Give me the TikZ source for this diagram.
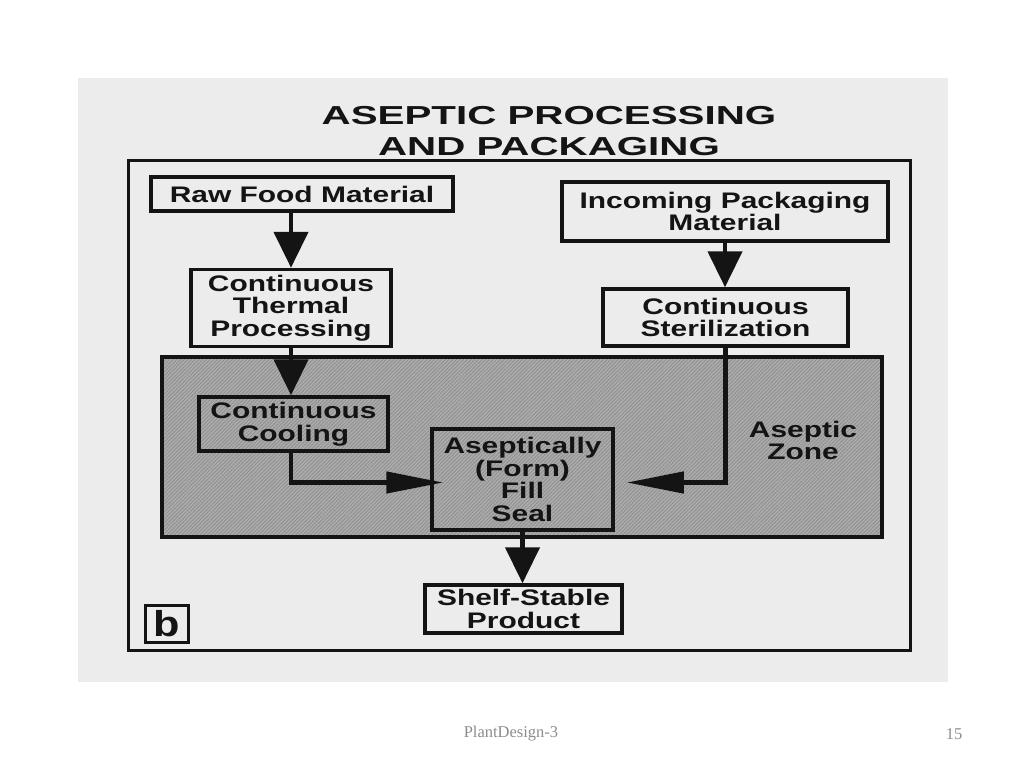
\documentclass[tikz,border=0pt]{standalone}
\usepackage{fontspec}
\setmainfont{Liberation Sans}
\newfontfamily\serifft{Liberation Serif}
\usetikzlibrary{arrows.meta,patterns.meta,calc}
\definecolor{panel}{HTML}{ECECEC}
\definecolor{ink}{HTML}{141414}
\definecolor{zonefill}{HTML}{ABABAB}
\definecolor{zoneline}{HTML}{8C8C8C}
\definecolor{foot}{HTML}{8C8C8C}
\newcommand{\sx}[1]{\scalebox{1.33}[1]{#1}}
\newcommand{\tx}[1]{\scalebox{1.55}[1]{#1}}
\begin{document}
\begin{tikzpicture}[x=1pt,y=-1pt,
  box/.style={draw=ink, line width=3.5pt, rectangle, inner sep=0pt, align=center,
    text=ink, font=\fontsize{22.5}{22.5}\selectfont\bfseries},
  conn/.style={draw=ink, line width=4.5pt},
  vtip/.style={-{Triangle[length=36pt,width=34pt]}},
  htip/.style={-{Triangle[length=57pt,width=21pt]}},
  lbl/.style={text=ink, align=center, inner sep=0pt, font=\fontsize{22.5}{22}\selectfont\bfseries}
]
\useasboundingbox (0,0) rectangle (1024,768);
\fill[white] (0,0) rectangle (1024,768);
\fill[panel] (78,78) rectangle (948,682);

% title
\node[lbl, font=\fontsize{26}{31}\selectfont\bfseries] (title) at (549,131)
  {\tx{ASEPTIC PROCESSING}\\\tx{AND PACKAGING}};

% outer frame
\node[draw=ink, line width=3pt, inner sep=0pt, minimum width=782pt, minimum height=490pt] (frame) at (519,405) {};

% aseptic zone
\node[draw=ink, line width=3.5pt, inner sep=0pt, minimum width=720pt, minimum height=180pt,
  preaction={fill=zonefill},
  pattern={Lines[angle=45,distance=2.6pt,line width=0.7pt]}, pattern color=zoneline] (zone) at (522,447) {};

\node[lbl] (aztext) at (803,440) {\sx{Aseptic}\\\sx{Zone}};

% boxes
\node[box, minimum width=302pt, minimum height=34pt] (rfm) at (302,194) {\sx{Raw Food Material}};
\node[box, minimum width=200pt, minimum height=77pt] (ctp) at (291,308) {\sx{Continuous}\\\sx{Thermal}\\\sx{Processing}};
\node[box, minimum width=326pt, minimum height=59pt] (ipm) at (725,211.5) {\sx{Incoming Packaging}\\\sx{Material}};
\node[box, minimum width=245pt, minimum height=57pt] (cs) at (725.5,317.5) {\sx{Continuous}\\\sx{Sterilization}};
\node[box, minimum width=189pt, minimum height=54pt] (cc) at (293.5,424) {\sx{Continuous}\\\sx{Cooling}};
\node[box, minimum width=181pt, minimum height=101pt] (asep) at (522.5,479.5) {\sx{Aseptically}\\\sx{(Form)}\\\sx{Fill}\\\sx{Seal}};
\node[box, minimum width=197pt, minimum height=48pt] (shelf) at (523.5,609) {\sx{Shelf-Stable}\\\sx{Product}};
\node[box, line width=3pt, minimum width=43pt, minimum height=37pt, font=\fontsize{36}{36}\selectfont\bfseries] (bbox) at (166.5,623.5) {\scalebox{1.2}[1]{b}};

% connectors
\draw[conn, vtip] (rfm.south -| ctp.north) -- (ctp.north);
\draw[conn, vtip] (ctp.south) -- (ctp.south |- cc.north);
\draw[conn, vtip] (ipm.south) -- (ipm.south |- cs.north);
\draw[conn, htip, shorten >=-13pt] (cc.south -| ctp.south) |- ($(asep.west)+(0,3)$);
\draw[conn, htip, shorten >=12pt] (cs.south) |- ($(asep.east)+(0,3)$);
\draw[conn, vtip] (asep.south) -- (asep.south |- shelf.north);

% footer
\node[text=foot, font=\serifft\fontsize{16.5}{17}\selectfont] (foot1) at (511,734) {PlantDesign-3};
\node[text=foot, font=\serifft\fontsize{16.5}{17}\selectfont] (foot2) at (954,734) {15};
\end{tikzpicture}
\end{document}
